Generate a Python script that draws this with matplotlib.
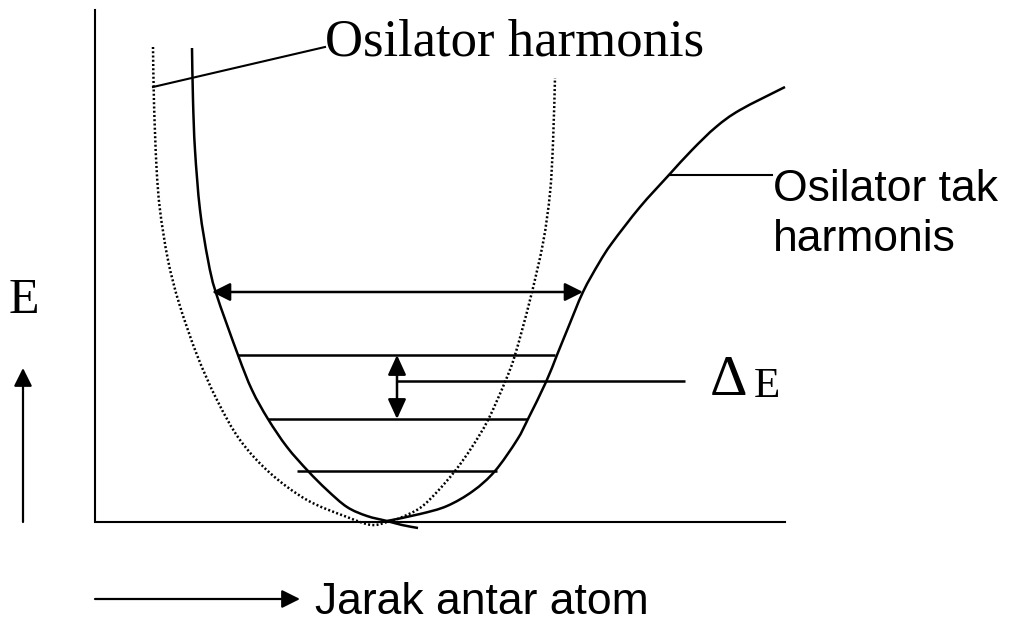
import matplotlib
matplotlib.use("Agg")
import matplotlib.pyplot as plt
from matplotlib.path import Path
from matplotlib.patches import PathPatch

# ---- data (pixel coordinates) ----
# anharmonic (Morse-like) potential, left branch incl. small tail past the minimum
anh_left_x = [192, 193, 195, 200, 208, 216, 238, 252, 268, 287, 308, 327, 347, 367, 387, 402, 418]
anh_left_y = [48, 100, 150, 210, 260, 293, 355, 390, 419, 447, 471, 490, 507, 516, 521, 525, 528]
# anharmonic, right branch
anh_right_x = [387, 420, 447, 473, 495, 517, 528, 546, 557, 568, 583, 599, 612, 640, 668, 692, 716, 740, 785]
anh_right_y = [521, 514, 506, 491, 471, 440, 419, 382, 355, 328, 292, 263, 243, 207, 176, 150, 127, 110, 87]
# harmonic parabola (dotted)
harm_x = [153, 154, 156.5, 160, 168, 179, 197, 217, 240, 270, 307, 347, 372, 390, 400, 420, 436,
          455, 472, 488, 505, 515, 530, 543, 550, 553, 555]
harm_y = [47, 103, 167, 210, 260, 303, 355, 400, 440, 473, 500, 517, 525, 521, 518, 508, 493,
          471, 447, 420, 382, 355, 300, 243, 193, 143, 78]
# vibrational energy levels
level_y = [355, 419, 471]
level_x0 = [238, 268, 297]
level_x1 = [555, 527, 497]

labels = {
    "harm": "Osilator harmonis",
    "anh1": "Osilator tak",
    "anh2": "harmonis",
    "E": "E",
    "delta": "\u0394",
    "dE": "E",
    "x": "Jarak antar atom",
}

W, H = 1009, 625
fig = plt.figure(figsize=(W / 100, H / 100), dpi=100)
ax = fig.add_axes([0, 0, 1, 1])
ax.set_xlim(0, W)
ax.set_ylim(H, 0)
ax.axis("off")

k = "black"
serif = ["Liberation Serif", "DejaVu Serif"]
sans = ["Liberation Sans", "DejaVu Sans"]


def smooth_curve(xs, ys, **kw):
    """Draw a smooth (Catmull-Rom rendered as cubic Bezier) curve through the given points."""
    pts = list(zip(xs, ys))
    n = len(pts)
    verts = [pts[0]]
    codes = [Path.MOVETO]
    for i in range(n - 1):
        p0 = pts[i - 1] if i > 0 else pts[i]
        p1 = pts[i]
        p2 = pts[i + 1]
        p3 = pts[i + 2] if i + 2 < n else pts[i + 1]
        c1 = (p1[0] + (p2[0] - p0[0]) / 6.0, p1[1] + (p2[1] - p0[1]) / 6.0)
        c2 = (p2[0] - (p3[0] - p1[0]) / 6.0, p2[1] - (p3[1] - p1[1]) / 6.0)
        verts += [c1, c2, p2]
        codes += [Path.CURVE4] * 3
    ax.add_patch(PathPatch(Path(verts, codes), facecolor="none", edgecolor=k, **kw))


# axes frame
ax.plot([95, 95, 785], [10, 522, 522], color=k, lw=1.5, solid_joinstyle="miter")

# curves
smooth_curve(anh_left_x, anh_left_y, lw=1.8, capstyle="butt")
smooth_curve(anh_right_x, anh_right_y, lw=1.8, capstyle="butt")
smooth_curve(harm_x, harm_y, lw=1.8, linestyle=(0, (0.8, 0.9)), capstyle="butt")

# energy levels
for y, x0, x1 in zip(level_y, level_x0, level_x1):
    ax.plot([x0, x1], [y, y], color=k, lw=1.8, solid_capstyle="butt")


def arrow(x0, y0, x1, y1, both=False, lw=1.8, hl=1.1, hw=0.55):
    style = ("<|-|>" if both else "-|>") + f",head_length={hl},head_width={hw}"
    ax.annotate("", xy=(x1, y1), xytext=(x0, y0),
                arrowprops=dict(arrowstyle=style, color=k, lw=lw,
                                shrinkA=0, shrinkB=0, mutation_scale=10))


# dissociation-width arrow and delta E arrow
arrow(212, 292, 583, 292, both=True)
arrow(397, 355, 397, 419, both=True, hl=1.2, hw=0.55)
# delta E leader
ax.plot([397, 685], [381, 381], color=k, lw=1.8, solid_capstyle="butt")

# axis direction arrows
arrow(23, 522, 23, 368, lw=1.6)
arrow(95, 599, 300, 599, lw=1.6)

# annotation leaders
ax.plot([153, 325], [87, 47], color=k, lw=1.5)
ax.plot([669, 772], [175, 175], color=k, lw=1.5)

# texts
ax.text(325, 56, labels["harm"], fontsize=38, family=serif, ha="left", va="baseline")
ax.text(773, 201, labels["anh1"], fontsize=32, family=sans, ha="left", va="baseline")
ax.text(773, 251, labels["anh2"], fontsize=32, family=sans, ha="left", va="baseline")
ax.text(9, 313, labels["E"], fontsize=36, family=serif, ha="left", va="baseline")
ax.text(710, 395, labels["delta"], fontsize=42, family=serif, ha="left", va="baseline")
ax.text(754, 397, labels["dE"], fontsize=31, family=serif, ha="left", va="baseline")
ax.text(315, 614, labels["x"], fontsize=32, family=sans, ha="left", va="baseline")

fig.savefig("out.png", dpi=100, facecolor="white")
